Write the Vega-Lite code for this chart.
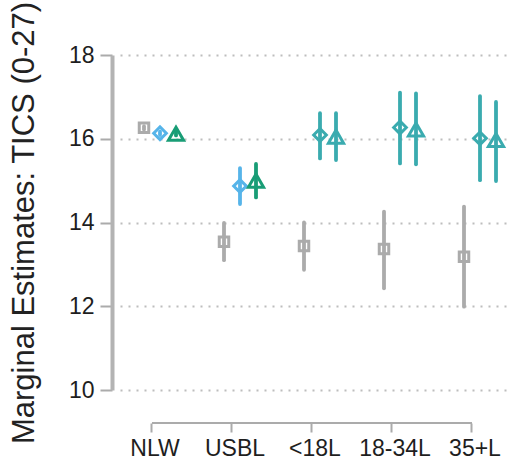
{
  "$schema": "https://vega.github.io/schema/vega-lite/v6.json",
  "width": 390,
  "height": 335,
  "autosize": {"type": "none"},
  "padding": {"left": 120, "top": 55, "right": 2, "bottom": 73},
  "config": {"view": {"stroke": null}, "font": "Liberation Sans"},
  "data": {
    "values": [
      {"cat": "NLW", "grp": "ref", "col": "grey", "est": 16.26, "lo": 16.22, "hi": 16.3},
      {"cat": "NLW", "grp": "a", "col": "blue", "est": 16.13, "lo": 16.09, "hi": 16.17},
      {"cat": "NLW", "grp": "b", "col": "green", "est": 16.12, "lo": 16.08, "hi": 16.17},
      {"cat": "USBL", "grp": "ref", "col": "grey", "est": 13.54, "lo": 13.1, "hi": 13.99},
      {"cat": "USBL", "grp": "a", "col": "blue", "est": 14.87, "lo": 14.44, "hi": 15.3},
      {"cat": "USBL", "grp": "b", "col": "green", "est": 15.0, "lo": 14.6, "hi": 15.4},
      {"cat": "<18L", "grp": "ref", "col": "grey", "est": 13.44, "lo": 12.87, "hi": 14.0},
      {"cat": "<18L", "grp": "a", "col": "teal", "est": 16.09, "lo": 15.53, "hi": 16.61},
      {"cat": "<18L", "grp": "b", "col": "teal", "est": 16.05, "lo": 15.49, "hi": 16.61},
      {"cat": "18-34L", "grp": "ref", "col": "grey", "est": 13.37, "lo": 12.43, "hi": 14.26},
      {"cat": "18-34L", "grp": "a", "col": "teal", "est": 16.27, "lo": 15.41, "hi": 17.1},
      {"cat": "18-34L", "grp": "b", "col": "teal", "est": 16.22, "lo": 15.39, "hi": 17.08},
      {"cat": "35+L", "grp": "ref", "col": "grey", "est": 13.18, "lo": 11.99, "hi": 14.38},
      {"cat": "35+L", "grp": "a", "col": "teal", "est": 16.01, "lo": 15.01, "hi": 17.02},
      {"cat": "35+L", "grp": "b", "col": "teal", "est": 15.97, "lo": 14.99, "hi": 16.88}
    ]
  },
  "layer": [
    {
      "mark": {"type": "rule", "strokeWidth": 3.8, "strokeCap": "round"},
      "encoding": {
        "x": {
          "field": "cat", "type": "nominal",
          "scale": {"domain": ["NLW", "USBL", "<18L", "18-34L", "35+L"], "paddingInner": 0.125, "paddingOuter": 0},
          "axis": {
            "title": null, "orient": "bottom", "offset": 33, "domain": false,
            "bandPosition": 0.457, "labelAngle": 0,
            "ticks": true, "tickSize": 9, "tickWidth": 2, "tickColor": "#ababab",
            "labelFontSize": 23, "labelColor": "#1e1e1e", "labelPadding": 5, "grid": false
          }
        },
        "xOffset": {"field": "grp", "type": "nominal", "scale": {"type": "point", "padding": 0, "domain": ["ref", "a", "b"], "range": [24, 56]}},
        "y": {
          "field": "lo", "type": "quantitative",
          "scale": {"domain": [10, 18], "nice": false, "zero": false},
          "axis": {
            "title": "Marginal Estimates: TICS (0-27)", "titleFontSize": 31, "titleFontWeight": "normal", "titleColor": "#222222", "titlePadding": 28,
            "values": [10, 12, 14, 16, 18], "offset": 8,
            "domainColor": "#b3b3b3", "domainWidth": 4,
            "tickColor": "#ababab", "tickWidth": 2, "tickSize": 12,
            "labelFontSize": 23, "labelColor": "#1e1e1e", "labelPadding": 6,
            "grid": true, "gridColor": "#bdbdbd", "gridDash": [2, 6], "gridWidth": 2
          }
        },
        "y2": {"field": "hi"},
        "color": {
          "field": "col", "type": "nominal", "legend": null,
          "scale": {"domain": ["grey", "blue", "green", "teal"], "range": ["#ababab", "#56b4e9", "#199d76", "#3aabaf"]}
        }
      }
    },
    {
      "mark": {"type": "point", "filled": false, "strokeWidth": 3, "opacity": 1},
      "encoding": {
        "x": {"field": "cat", "type": "nominal"},
        "xOffset": {"field": "grp", "type": "nominal"},
        "y": {"field": "est", "type": "quantitative"},
        "color": {"field": "col", "type": "nominal", "legend": null},
        "shape": {"field": "grp", "type": "nominal", "legend": null, "scale": {"domain": ["ref", "a", "b"], "range": ["square", "diamond", "triangle-up"]}},
        "size": {"field": "grp", "type": "nominal", "legend": null, "scale": {"domain": ["ref", "a", "b"], "range": [90, 230, 150]}}
      }
    },
    {
      "transform": [{"aggregate": [{"op": "count", "as": "n"}]}],
      "mark": {"type": "rule", "strokeWidth": 2, "color": "#ababab"},
      "encoding": {
        "x": {"datum": "NLW", "bandPosition": 0.457},
        "x2": {"datum": "35+L", "bandPosition": 0.457},
        "y": {"datum": 9.21}
      }
    }
  ]
}
